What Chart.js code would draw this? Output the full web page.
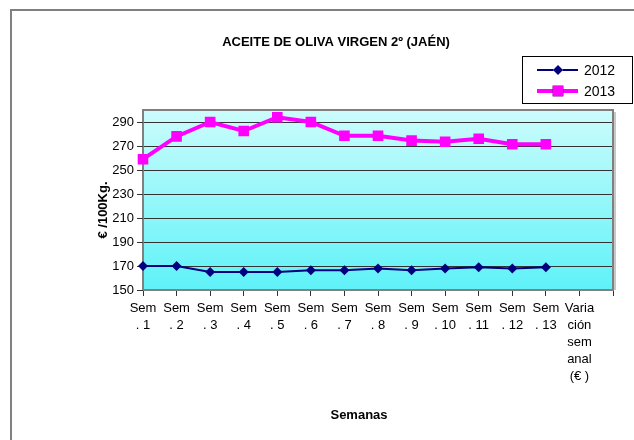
<!DOCTYPE html>
<html>
<head>
<meta charset="utf-8">
<script src="https://cdn.jsdelivr.net/npm/chart.js@4/dist/chart.umd.min.js"></script>
<style>
	body { margin: 0; background: #fff; }
	#wrap { width: 634px; height: 440px; }
</style>
</head>
<body>
<div id="wrap"><canvas id="chart-aceite" width="634" height="440"></canvas></div>
<script>
// Data
// ================================================================================
let week_labels = [
	['Sem', '. 1'], ['Sem', '. 2'], ['Sem', '. 3'], ['Sem', '. 4'], ['Sem', '. 5'],
	['Sem', '. 6'], ['Sem', '. 7'], ['Sem', '. 8'], ['Sem', '. 9'], ['Sem', '. 10'],
	['Sem', '. 11'], ['Sem', '. 12'], ['Sem', '. 13'],
	['Varia', 'ción', 'sem', 'anal', '(€ )'],
	''
];
let values_2012 = [170, 170, 165, 165, 165, 166.5, 166.5, 168, 166.5, 168, 169, 168, 169];
let values_2013 = [259, 278, 290, 282.5, 294, 290, 278.5, 278.5, 274.5, 273.5, 276, 271.5, 271.5];
let series_names = ['2012', '2013'];

let y_ticks = [150, 170, 190, 210, 230, 250, 270, 290];
let y_min = 150, y_max = 300;

const FONT = '"Liberation Sans", Arial, sans-serif';

// Plugins: frame, plot background, titles, legend
// ================================================================================
let decor = {
	id: 'decor',
	beforeDraw(chart) {
		let ctx = chart.ctx;
		let a = chart.chartArea;
		ctx.save();
		// outer frame
		ctx.strokeStyle = '#808080';
		ctx.lineWidth = 2;
		ctx.strokeRect(11, 10, 700, 500);
		// plot background
		let g = ctx.createLinearGradient(0, a.top, 0, a.bottom);
		g.addColorStop(0, '#ccfcfc');
		g.addColorStop(1, '#5ef2f8');
		ctx.fillStyle = g;
		ctx.fillRect(a.left, a.top, a.right - a.left, a.bottom - a.top);
		ctx.restore();
	},
	beforeDatasetsDraw(chart) {
		let ctx = chart.ctx;
		let a = chart.chartArea;
		ctx.save();
		ctx.strokeStyle = '#c8c8c8';
		ctx.lineWidth = 2;
		ctx.beginPath();
		ctx.moveTo(a.right + 2, a.top + 2);
		ctx.lineTo(a.right + 2, a.bottom);
		ctx.stroke();
		ctx.strokeStyle = '#808080';
		ctx.lineWidth = 2;
		ctx.strokeRect(a.left, a.top, a.right - a.left, a.bottom - a.top);
		// small tick marks left of the y axis
		ctx.strokeStyle = '#333';
		ctx.lineWidth = 1;
		chart.scales.y.ticks.forEach(t => {
			let y = Math.round(chart.scales.y.getPixelForValue(t.value)) + 0.5;
			ctx.beginPath();
			ctx.moveTo(a.left - 6, y);
			ctx.lineTo(a.left, y);
			ctx.stroke();
		});
		ctx.restore();
	},
	afterDraw(chart) {
		let ctx = chart.ctx;
		ctx.save();
		ctx.fillStyle = '#000';
		ctx.textAlign = 'center';
		ctx.textBaseline = 'middle';
		ctx.font = 'bold 13px ' + FONT;
		ctx.fillText('ACEITE DE OLIVA VIRGEN 2º (JAÉN)', 336, 42);
		ctx.fillText('Semanas', 359, 415);
		ctx.save();
		ctx.translate(103, 210);
		ctx.rotate(-Math.PI / 2);
		ctx.fillText('€ /100Kg.', 0, 0);
		ctx.restore();

		// legend
		ctx.fillStyle = '#fff';
		ctx.fillRect(522, 56, 110, 47);
		ctx.strokeStyle = '#000';
		ctx.lineWidth = 1;
		ctx.strokeRect(522.5, 56.5, 110, 47);
		chart.data.datasets.forEach((ds, i) => {
			let y = 70 + i * 21;
			ctx.strokeStyle = ds.borderColor;
			ctx.lineWidth = ds.borderWidth;
			ctx.beginPath();
			ctx.moveTo(537, y);
			ctx.lineTo(578, y);
			ctx.stroke();
			Chart.helpers.drawPoint(ctx, {
				pointStyle: ds.pointStyle,
				radius: ds.pointRadius,
				borderWidth: 0
			}, 558, y);
			ctx.fillStyle = ds.pointBackgroundColor;
			ctx.fill();
			ctx.fillStyle = '#000';
			ctx.textAlign = 'left';
			ctx.font = '14px ' + FONT;
			ctx.fillText(ds.label, 584, y + 1);
		});
		ctx.restore();
	}
};

// Chart
// ================================================================================
let aceite_chart = new Chart(document.getElementById('chart-aceite'), {
	type: 'line',
	data: {
		labels: week_labels,
		datasets: [
			{
				label: series_names[0],
				data: values_2012,
				borderColor: '#000080',
				backgroundColor: '#000080',
				pointBackgroundColor: '#000080',
				borderWidth: 2,
				pointStyle: 'rectRot',
				pointRadius: 5,
				pointBorderWidth: 0,
				tension: 0
			},
			{
				label: series_names[1],
				data: values_2013,
				borderColor: '#ff00ff',
				backgroundColor: '#ff00ff',
				pointBackgroundColor: '#ff00ff',
				borderWidth: 4,
				pointStyle: 'rect',
				pointRadius: 7.5,
				pointBorderWidth: 0,
				tension: 0
			}
		]
	},
	options: {
		responsive: false,
		animation: false,
		layout: { padding: { left: 0, top: 110, right: 21, bottom: 0 } },
		plugins: {
			legend: { display: false },
			tooltip: { enabled: false }
		},
		scales: {
			x: {
				offset: false,
				afterFit: (s) => { s.height = 150; },
				grid: {
					drawOnChartArea: false,
					drawTicks: true,
					tickLength: 6,
					color: '#333'
				},
				border: { display: false },
				ticks: {
					autoSkip: false,
					maxRotation: 0,
					minRotation: 0,
					padding: 4,
					color: '#000',
					font: { family: FONT, size: 13, lineHeight: 1.3 }
				}
			},
			y: {
				min: y_min,
				max: y_max,
				afterFit: (s) => { s.width = 143; },
				afterBuildTicks: (s) => { s.ticks = y_ticks.map(v => ({ value: v })); },
				grid: {
					color: '#333',
					drawTicks: false,
					lineWidth: 1
				},
				border: { display: false },
				ticks: {
					padding: 9,
					color: '#000',
					font: { family: FONT, size: 13 }
				}
			}
		}
	},
	plugins: [decor]
});
</script>
</body>
</html>
